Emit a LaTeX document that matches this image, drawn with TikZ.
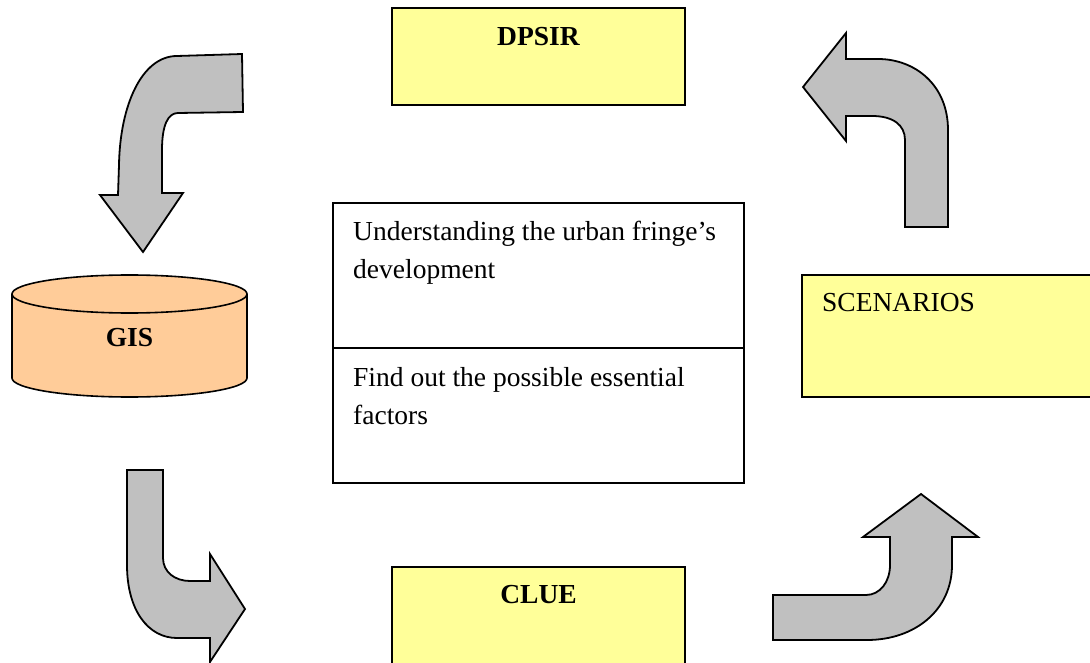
\documentclass[tikz,border=0pt]{standalone}
\usepackage{fontspec}
\setmainfont{Liberation Serif}
\definecolor{boxyellow}{HTML}{FFFF99}
\definecolor{gisorange}{HTML}{FFCC99}
\definecolor{arrowgray}{HTML}{C0C0C0}
\tikzset{
  ybox/.style={draw=black, line width=1.4pt, fill=boxyellow, rectangle, inner sep=0pt},
  wbox/.style={draw=black, line width=1.4pt, fill=white, rectangle, inner sep=0pt},
  bentarrow/.style={draw=black, line width=1.8pt, fill=arrowgray, line join=miter},
  txt/.style={inner sep=0pt, font=\fontsize{27.5}{38}\selectfont},
  boldtxt/.style={txt, font=\fontsize{27.5}{38}\selectfont\bfseries},
}
\begin{document}
\begin{tikzpicture}[x=1pt, y=-1pt]
\useasboundingbox (0,0) rectangle (1090,663);

% yellow boxes
\node[ybox, minimum width=293pt, minimum height=97pt] (dpsirbox) at (538.5,56.5) {};
\node[boldtxt, anchor=base] (dpsir) at (538.5,46) {DPSIR};
\node[ybox, minimum width=300pt, minimum height=122pt] (scenbox) at (952,336) {};
\node[txt, anchor=base west] (scen) at (822,311) {SCENARIOS};
\node[ybox, minimum width=293pt, minimum height=110pt] (cluebox) at (538.5,622) {};
\node[boldtxt, anchor=base] (clue) at (538.5,603) {CLUE};

% central two-part box
\node[wbox, minimum width=411pt, minimum height=145pt] (upper) at (538.5,275.5) {};
\node[wbox, minimum width=411pt, minimum height=135pt] (lower) at (538.5,415.5) {};
\node[txt, anchor=base west] (u1) at (353,241) {Understanding the urban fringe’s};
\node[txt, anchor=base west] (u2) at (353,279) {development};
\node[txt, anchor=base west] (l1) at (353,386) {Find out the possible essential};
\node[txt, anchor=base west] (l2) at (353,424) {factors};

% GIS cylinder
\fill[gisorange] (12,294) -- (12,378) arc[start angle=180, end angle=360, x radius=117.5pt, y radius=19pt]
  -- (247,294) arc[start angle=0, end angle=180, x radius=117.5pt, y radius=19pt] -- cycle;
\draw[line width=1.6pt] (12,294) -- (12,378) arc[start angle=180, end angle=360, x radius=117.5pt, y radius=19pt] -- (247,294);
\draw[line width=1.6pt] (129.5,294) ellipse[x radius=117.5pt, y radius=19pt];
\node[boldtxt, anchor=base] (gis) at (129.5,346) {GIS};

% bent arrows
\draw[bentarrow] (242,54) -- (177,56) .. controls (142,56) and (120,105) .. (119,165)
  -- (118,195) -- (100,195) -- (143,252) -- (183,193) -- (162,193) -- (162,150)
  .. controls (162,125) and (168,113) .. (178,113) -- (243,112) -- cycle;

\draw[bentarrow] (948,227) -- (948,130) .. controls (948,85) and (915,59) .. (878,59)
  -- (846,59) -- (846,33) -- (803,87) -- (846,141) -- (846,116) -- (872,116)
  .. controls (893,116) and (905,125) .. (905,140) -- (905,227) -- cycle;

\draw[bentarrow] (127,470) -- (163,470) -- (163,558) .. controls (163,572) and (175,581) .. (190,581)
  -- (210,581) -- (210,554) -- (245,609) -- (210,662) -- (210,638) -- (177,638)
  .. controls (148,638) and (127,610) .. (127,565) -- cycle;

\draw[bentarrow] (773,595) -- (773,640) -- (867,640) .. controls (915,640) and (952,610) .. (952,565)
  -- (952,537) -- (978,537) -- (921,494) -- (863,537) -- (890,537) -- (890,565)
  .. controls (890,582) and (880,595) .. (866,595) -- cycle;
\end{tikzpicture}
\end{document}
